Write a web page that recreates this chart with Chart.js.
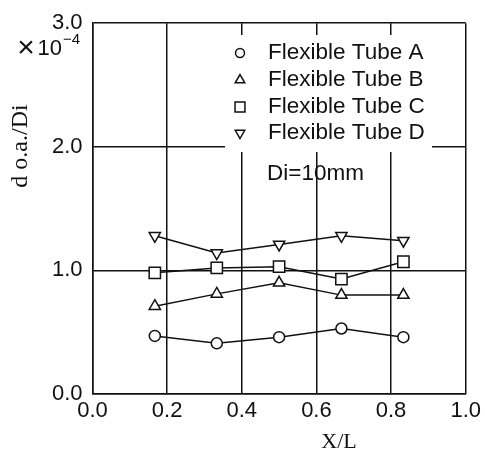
<!DOCTYPE html>
<html>
<head>
<meta charset="utf-8">
<script src="https://cdn.jsdelivr.net/npm/chart.js@4/dist/chart.umd.min.js"></script>
<style>
html,body{margin:0;padding:0;background:#fff;}
#wrap{width:485px;height:451px;position:relative;}
</style>
</head>
<body>
<div id="wrap"><canvas id="c" width="485" height="451"></canvas></div>
<script>
const xPositions = [0.167, 0.333, 0.5, 0.667, 0.833];
const tubeA = [0.47, 0.41, 0.46, 0.53, 0.46];
const tubeB = [0.71, 0.81, 0.90, 0.80, 0.80];
const tubeC = [0.98, 1.02, 1.03, 0.93, 1.07];
const tubeD = [1.28, 1.14, 1.21, 1.28, 1.24];
const seriesNames = ['Flexible Tube A', 'Flexible Tube B', 'Flexible Tube C', 'Flexible Tube D'];
const xTicks = [0, 0.2, 0.4, 0.6, 0.8, 1.0];
const yTicks = [0, 1, 2, 3];
const noteText = 'Di=10mm';
const yTitle = 'd o.a./Di';
const xTitle = 'X/L';

const toPts = arr => arr.map((v, i) => ({x: xPositions[i], y: v}));
const styles = [
  {pointStyle: 'circle', radius: 5.5, rot: 0, lr: 4.5},
  {pointStyle: 'triangle', radius: 6.5, rot: 0, lr: 5.5},
  {pointStyle: 'rect', radius: 8, rot: 0, lr: 7},
  {pointStyle: 'triangle', radius: 6.5, rot: 180, lr: 5.5}
];
const allData = [tubeA, tubeB, tubeC, tubeD];

const datasets = allData.map((d, i) => ({
  label: seriesNames[i],
  data: toPts(d),
  showLine: true,
  borderColor: '#111',
  borderWidth: 1.5,
  backgroundColor: '#fff',
  pointStyle: styles[i].pointStyle,
  pointRadius: styles[i].radius,
  pointRotation: styles[i].rot,
  pointBorderWidth: 1.5,
  pointBorderColor: '#111',
  pointBackgroundColor: '#fff'
}));

const SANS = '"Liberation Sans", Arial, sans-serif';
const SERIF = '"Liberation Serif", "Times New Roman", serif';

const decor = {
  id: 'decor',
  afterDraw(chart) {
    const ctx = chart.ctx;
    ctx.save();
    // legend box
    ctx.fillStyle = '#fff';
    ctx.fillRect(225, 35, 207, 117);
    ctx.font = '22.5px ' + SANS;
    ctx.textBaseline = 'middle';
    ctx.textAlign = 'left';
    const rows = [53, 80, 107, 133];
    seriesNames.forEach((n, i) => {
      ctx.fillStyle = '#fff';
      ctx.strokeStyle = '#111';
      ctx.lineWidth = 1.5;
      Chart.helpers.drawPoint(ctx, {pointStyle: styles[i].pointStyle, radius: styles[i].lr, rotation: styles[i].rot, borderWidth: 1.5}, 240, rows[i]);
      ctx.fillStyle = '#111';
      ctx.fillText(n, 268, rows[i]);
    });
    ctx.fillStyle = '#111';
    ctx.fillText(noteText, 267, 174);
    // multiplier
    ctx.textAlign = 'center';
    ctx.font = '30px ' + SANS;
    ctx.fillText('×', 26, 49);
    ctx.textAlign = 'right';
    ctx.font = '22px ' + SANS;
    ctx.fillText('10', 62, 49);
    ctx.textAlign = 'left';
    ctx.font = '15px ' + SANS;
    ctx.fillText('−4', 63, 40);
    // axis titles
    ctx.font = '24px ' + SERIF;
    ctx.textAlign = 'center';
    ctx.save();
    ctx.translate(21, 146);
    ctx.rotate(-Math.PI / 2);
    ctx.fillText(yTitle, 0, 0);
    ctx.restore();
    ctx.font = '22px ' + SERIF;
    ctx.fillText(xTitle, 339, 442);
    ctx.restore();
  }
};

new Chart(document.getElementById('c'), {
  type: 'scatter',
  data: {datasets},
  plugins: [decor],
  options: {
    responsive: false,
    animation: false,
    devicePixelRatio: 1,
    layout: {padding: {top: 15, right: 17, left: 0, bottom: 0}},
    plugins: {legend: {display: false}, tooltip: {enabled: false}},
    scales: {
      x: {
        type: 'linear', min: 0, max: 1,
        afterBuildTicks: s => { s.ticks = xTicks.map(v => ({value: v})); },
        afterFit: s => { s.height = 57; },
        grid: {color: '#111', lineWidth: 1.5, drawTicks: false},
        border: {color: '#111', width: 1.5},
        ticks: {color: '#111', padding: 4, font: {family: SANS, size: 22},
                callback: v => Number(v).toFixed(1), maxRotation: 0, autoSkip: false}
      },
      y: {
        type: 'linear', min: 0, max: 3,
        afterBuildTicks: s => { s.ticks = yTicks.map(v => ({value: v})); },
        afterFit: s => { s.width = 92.5; },
        grid: {color: '#111', lineWidth: 1.5, drawTicks: false},
        border: {color: '#111', width: 1.5},
        ticks: {color: '#111', padding: 10, font: {family: SANS, size: 22},
                callback: v => Number(v).toFixed(1), autoSkip: false}
      }
    }
  }
});
</script>
</body>
</html>
